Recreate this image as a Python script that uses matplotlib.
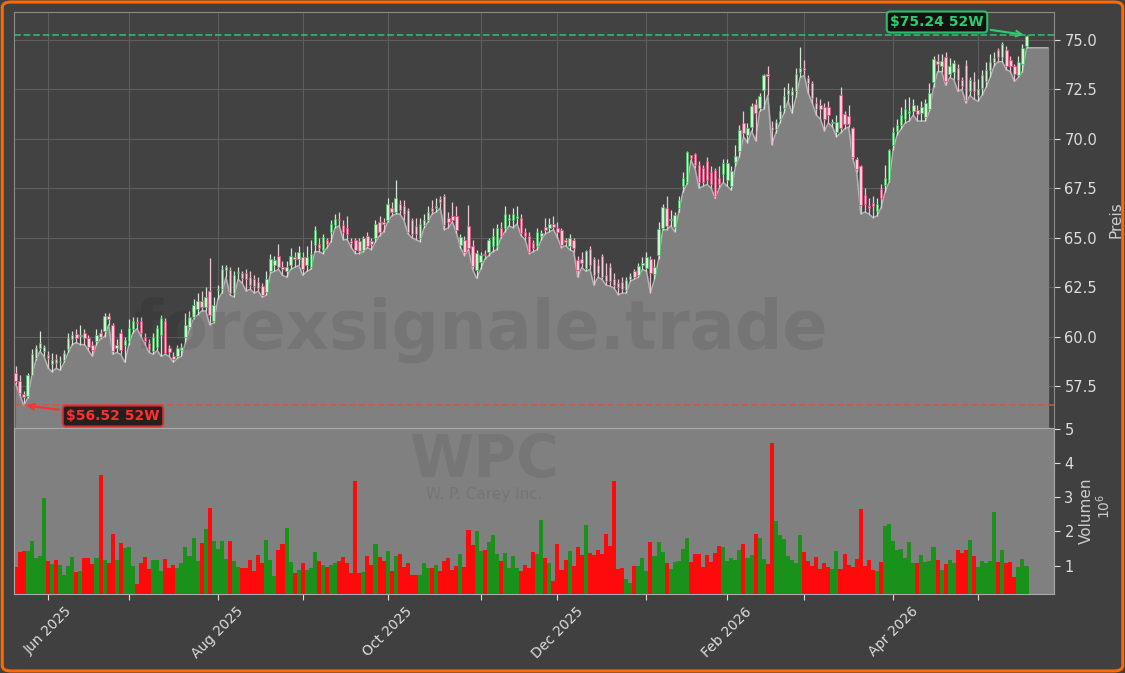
import numpy as np
import pandas as pd
import matplotlib
matplotlib.use("Agg")
import matplotlib.pyplot as plt
from matplotlib.patches import FancyBboxPatch

# trading days (NYSE holidays removed)
holidays = ["2025-05-26", "2025-06-19", "2025-07-04", "2025-09-01", "2025-11-27",
            "2025-12-25", "2026-01-01", "2026-01-19", "2026-02-16", "2026-04-03"]
dates = pd.bdate_range("2025-05-20", "2026-05-19", freq="C", holidays=holidays)

opens = [
    58.17, 57.75, 57.11, 57.02, 58.08, 58.93, 59.40, 59.26, 59.06, 58.60,
    58.89, 58.70, 58.84, 59.35, 59.90, 60.14, 60.05, 60.19, 59.94, 59.60,
    59.80, 60.20, 60.27, 61.03, 60.58, 59.43, 60.20, 59.60, 59.77, 60.36,
    60.75, 60.78, 60.00, 59.70, 59.26, 59.50, 60.10, 60.77, 59.40, 59.00,
    59.00, 59.30, 60.00, 60.50, 61.00, 61.40, 61.80, 61.50, 62.30, 60.80,
    62.35, 62.40, 63.35, 63.35, 62.20, 63.20, 63.20, 63.20, 63.00, 62.90,
    62.75, 62.55, 62.25, 63.30, 63.60, 64.10, 63.50, 63.30, 63.60, 64.00,
    63.90, 64.00, 63.60, 63.50, 64.64, 64.70, 64.40, 64.90, 65.30, 65.65,
    65.95, 65.65, 65.50, 64.85, 64.90, 64.85, 64.40, 65.10, 64.85, 64.98,
    65.80, 65.80, 65.90, 66.50, 66.30, 66.70, 66.60, 66.40, 65.90, 65.60,
    64.98, 65.65, 65.90, 66.49, 66.50, 66.95, 67.12, 65.99, 66.10, 66.10,
    64.65, 64.90, 65.60, 64.60, 63.38, 63.75, 64.20, 64.30, 64.60, 64.60,
    65.50, 65.50, 65.90, 65.90, 66.00, 66.00, 65.30, 65.07, 64.73, 64.56,
    65.10, 65.54, 65.50, 65.70, 65.50, 65.37, 64.90, 64.56, 64.87, 63.89,
    63.90, 63.47, 64.43, 63.90, 63.60, 64.10, 63.10, 63.50, 62.90, 62.70,
    62.78, 62.38, 62.93, 63.30, 63.13, 63.60, 63.47, 63.90, 63.17, 64.11,
    65.49, 66.50, 65.90, 65.52, 66.50, 67.60, 67.81, 69.16, 69.23, 68.70,
    68.50, 68.90, 68.30, 68.40, 68.00, 68.20, 67.90, 67.60, 68.83, 69.36,
    70.79, 70.20, 70.62, 71.75, 71.55, 72.47, 73.26, 70.62, 70.50, 71.00,
    71.55, 72.27, 72.22, 72.42, 73.40, 73.60, 73.06, 72.81, 71.80, 71.70,
    71.60, 71.63, 70.80, 70.33, 72.22, 71.24, 71.17, 70.54, 68.99, 68.60,
    67.14, 66.60, 66.75, 66.36, 67.46, 67.64, 67.93, 69.70, 70.40, 70.71,
    71.00, 71.30, 71.40, 71.47, 71.30, 71.10, 71.50, 72.85, 73.91, 73.66,
    74.16, 73.30, 73.40, 73.57, 72.95, 73.74, 72.40, 72.90, 72.20, 72.56,
    72.90, 73.46, 73.90, 74.47, 74.16, 74.50, 74.00, 73.70, 73.20, 73.80,
    74.70,
]
highs = [
    58.51, 58.08, 57.24, 58.17, 59.35, 59.60, 60.27, 59.60, 59.26, 59.18,
    59.10, 59.00, 59.30, 60.20, 60.30, 60.40, 60.60, 60.40, 60.10, 59.80,
    60.40, 60.40, 61.20, 61.20, 60.70, 59.90, 60.40, 60.00, 60.90, 61.00,
    61.00, 61.00, 60.20, 59.90, 60.20, 60.60, 61.10, 60.94, 59.60, 59.20,
    59.60, 59.70, 61.20, 61.30, 61.90, 62.20, 62.30, 62.50, 63.97, 62.00,
    62.60, 63.60, 63.60, 63.50, 63.30, 63.50, 63.30, 63.40, 63.30, 63.10,
    63.00, 62.70, 63.30, 64.20, 64.10, 64.70, 63.80, 63.80, 64.50, 64.30,
    64.60, 64.30, 64.60, 64.90, 65.60, 65.00, 65.20, 65.00, 65.90, 66.20,
    66.30, 65.90, 66.10, 65.00, 65.00, 65.00, 65.10, 65.30, 65.00, 65.90,
    66.10, 66.00, 67.00, 66.80, 67.90, 66.90, 66.90, 66.50, 66.00, 66.00,
    66.00, 66.20, 66.60, 66.90, 67.00, 67.10, 67.20, 66.30, 66.80, 66.58,
    65.20, 65.10, 66.67, 64.90, 64.40, 64.30, 64.40, 65.00, 65.50, 65.70,
    65.80, 66.60, 66.20, 66.50, 66.60, 66.20, 65.50, 65.30, 64.90, 65.50,
    65.40, 66.00, 66.00, 66.10, 65.80, 65.50, 65.00, 65.20, 65.00, 64.10,
    64.30, 64.40, 64.60, 64.00, 63.90, 64.20, 63.70, 63.70, 63.20, 62.90,
    63.00, 63.00, 63.20, 63.40, 63.70, 64.00, 64.30, 64.10, 63.90, 65.80,
    66.70, 67.10, 66.40, 66.30, 67.10, 68.30, 69.40, 69.20, 69.30, 68.90,
    68.70, 69.10, 68.60, 68.50, 68.60, 69.00, 69.00, 68.60, 69.70, 70.70,
    71.40, 70.80, 71.80, 72.00, 72.30, 73.30, 73.70, 70.90, 71.00, 71.70,
    72.60, 72.80, 72.60, 73.60, 74.66, 74.00, 73.20, 72.90, 72.10, 72.00,
    71.80, 71.90, 71.00, 71.20, 72.60, 71.40, 71.70, 70.60, 69.10, 68.70,
    67.50, 67.00, 67.10, 67.00, 67.70, 68.70, 69.50, 70.60, 71.00, 71.60,
    72.00, 72.10, 72.00, 71.70, 71.90, 72.00, 72.80, 74.20, 74.30, 74.30,
    74.40, 74.10, 74.00, 73.80, 73.10, 74.00, 73.10, 73.40, 73.00, 73.50,
    73.90, 74.30, 74.40, 74.60, 74.90, 74.70, 74.20, 73.80, 74.20, 74.80,
    75.24,
]
lows = [
    57.61, 57.07, 56.52, 56.90, 58.05, 58.80, 59.26, 59.00, 58.42, 58.22,
    58.40, 58.30, 58.70, 59.20, 59.60, 59.70, 59.60, 59.60, 59.30, 59.00,
    59.60, 59.90, 60.00, 60.60, 59.10, 59.20, 59.10, 58.70, 59.60, 60.20,
    60.40, 60.00, 59.60, 59.20, 59.10, 59.30, 59.00, 59.10, 59.00, 58.70,
    58.90, 59.00, 59.70, 60.40, 60.90, 61.10, 61.30, 61.30, 60.60, 60.70,
    61.90, 62.20, 63.00, 62.10, 62.00, 62.90, 62.70, 62.30, 62.40, 62.20,
    62.30, 62.00, 62.10, 63.20, 63.30, 63.40, 63.10, 63.00, 63.40, 63.50,
    63.60, 63.10, 63.30, 63.40, 64.30, 64.30, 64.20, 64.50, 64.80, 65.50,
    65.60, 64.90, 64.90, 64.50, 64.20, 64.20, 64.30, 64.50, 64.40, 64.80,
    65.10, 65.30, 65.80, 66.10, 66.20, 66.20, 65.90, 65.20, 65.00, 64.90,
    64.80, 65.50, 65.80, 66.20, 66.30, 66.50, 65.40, 65.50, 65.80, 65.24,
    64.50, 64.10, 64.40, 63.40, 62.95, 63.40, 63.90, 64.10, 64.30, 64.40,
    65.00, 65.30, 65.60, 65.50, 65.70, 65.10, 64.90, 64.20, 64.30, 64.40,
    64.90, 65.20, 65.30, 65.40, 65.00, 64.50, 64.60, 64.40, 64.30, 63.00,
    63.50, 63.30, 63.40, 62.60, 63.00, 62.90, 62.60, 62.55, 62.45, 62.12,
    62.20, 62.20, 62.80, 62.90, 63.00, 63.40, 63.30, 62.21, 62.90, 63.90,
    65.40, 65.40, 65.60, 65.30, 66.30, 67.30, 67.70, 68.90, 68.50, 67.50,
    67.60, 67.70, 67.50, 67.00, 67.50, 67.80, 67.60, 67.40, 68.60, 69.10,
    70.10, 69.80, 70.40, 69.90, 71.40, 71.50, 72.20, 69.70, 70.30, 70.80,
    71.30, 71.90, 71.30, 72.10, 73.10, 73.20, 72.30, 71.80, 71.20, 71.00,
    70.40, 70.80, 70.60, 70.10, 70.30, 70.50, 70.60, 69.00, 68.30, 66.20,
    66.30, 66.20, 66.02, 66.10, 66.50, 67.30, 67.80, 69.45, 70.20, 70.50,
    70.80, 70.90, 71.20, 70.90, 70.90, 70.90, 71.40, 72.60, 73.40, 73.40,
    72.70, 73.10, 73.00, 72.40, 72.50, 71.80, 72.20, 72.00, 71.90, 72.20,
    72.60, 73.10, 73.70, 73.90, 73.90, 73.50, 73.40, 72.90, 73.10, 73.40,
    74.60,
]
closes = [
    57.75, 57.16, 56.97, 58.08, 59.13, 59.43, 59.68, 59.47, 58.93, 58.84,
    58.67, 58.76, 59.18, 59.94, 60.10, 59.94, 60.10, 59.94, 59.50, 59.30,
    60.10, 60.00, 61.03, 60.90, 59.26, 59.60, 59.30, 59.85, 60.44, 60.81,
    60.70, 60.20, 59.80, 59.35, 60.00, 60.44, 60.95, 59.18, 59.20, 58.85,
    59.40, 59.50, 60.60, 61.00, 61.60, 61.80, 61.50, 62.00, 61.10, 61.60,
    62.40, 63.40, 63.50, 62.20, 63.10, 63.25, 62.95, 62.90, 62.60, 62.55,
    62.45, 62.10, 62.90, 63.90, 63.85, 63.50, 63.40, 63.50, 64.10, 63.90,
    64.30, 63.40, 64.00, 64.20, 65.40, 64.50, 65.06, 64.70, 65.70, 65.93,
    65.90, 65.27, 65.18, 64.73, 64.40, 64.34, 64.98, 64.60, 64.70, 65.70,
    65.30, 65.70, 66.70, 66.30, 67.00, 66.40, 66.20, 65.30, 65.20, 65.20,
    65.70, 65.90, 66.30, 66.36, 66.60, 66.80, 65.65, 65.77, 65.90, 65.37,
    65.03, 64.30, 64.48, 63.55, 64.23, 64.14, 64.15, 64.90, 65.10, 65.50,
    65.10, 66.20, 66.00, 66.20, 66.10, 65.24, 65.10, 64.30, 64.48, 65.30,
    65.24, 65.40, 65.70, 65.55, 65.30, 64.65, 64.77, 64.98, 64.48, 63.35,
    63.70, 64.31, 63.60, 63.10, 63.20, 63.00, 62.80, 62.80, 62.60, 62.50,
    62.40, 62.88, 63.08, 63.02, 63.55, 63.70, 64.01, 63.22, 63.52, 65.44,
    66.53, 65.58, 65.95, 66.13, 66.92, 68.02, 69.33, 69.03, 68.69, 67.80,
    67.80, 67.90, 67.70, 67.10, 67.70, 68.80, 68.80, 68.35, 69.11, 70.46,
    70.29, 70.57, 71.68, 71.30, 72.14, 73.23, 73.16, 70.42, 70.84, 71.41,
    72.14, 72.47, 72.42, 73.28, 73.60, 73.50, 72.81, 72.05, 71.50, 71.50,
    71.00, 71.21, 70.85, 70.84, 70.54, 70.74, 70.74, 69.10, 68.48, 66.66,
    66.70, 66.50, 66.58, 66.70, 67.00, 68.00, 69.44, 70.32, 70.70, 71.22,
    71.50, 71.40, 71.70, 71.27, 71.60, 71.80, 72.30, 74.03, 73.80, 73.91,
    72.90, 73.70, 73.83, 72.99, 72.65, 71.97, 72.95, 72.40, 72.50, 73.24,
    73.50, 73.86, 74.07, 74.11, 74.79, 73.70, 73.70, 73.30, 73.90, 74.60,
    75.20,
]
# volume in millions
volumes = [
    0.97, 1.39, 1.43, 1.43, 1.72, 1.23, 1.28, 2.97, 1.14, 1.05,
    1.17, 1.02, 0.73, 0.99, 1.25, 0.80, 0.84, 1.22, 1.22, 1.05,
    1.22, 3.64, 1.17, 1.08, 1.92, 1.17, 1.66, 1.52, 1.54, 0.99,
    0.47, 1.08, 1.25, 0.90, 1.17, 1.17, 0.84, 1.19, 0.93, 1.02,
    0.93, 1.08, 1.54, 1.28, 1.81, 1.14, 1.66, 2.07, 2.68, 1.72,
    1.49, 1.72, 1.19, 1.72, 1.14, 0.96, 0.93, 0.93, 1.17, 0.84,
    1.31, 1.08, 1.75, 1.17, 0.70, 1.46, 1.64, 2.10, 1.11, 0.79,
    0.87, 1.08, 0.87, 0.93, 1.40, 1.14, 1.02, 0.96, 1.02, 1.08,
    1.14, 1.25, 1.08, 0.79, 3.47, 0.79, 0.82, 1.28, 1.02, 1.64,
    1.25, 1.14, 1.43, 0.84, 1.28, 1.34, 0.96, 1.08, 0.73, 0.73,
    0.73, 1.08, 0.93, 0.93, 1.02, 0.84, 1.14, 1.22, 0.87, 0.99,
    1.34, 0.96, 2.04, 1.60, 2.01, 1.43, 1.46, 1.69, 1.89, 1.34,
    1.14, 1.37, 0.93, 1.28, 0.93, 0.84, 1.02, 0.93, 1.40, 1.34,
    2.35, 1.21, 1.07, 0.55, 1.62, 0.87, 1.17, 1.43, 0.99, 1.55,
    1.31, 2.18, 1.36, 1.31, 1.46, 1.34, 1.94, 1.57, 3.47, 0.90,
    0.92, 0.60, 0.50, 0.99, 0.99, 1.23, 0.84, 1.68, 1.28, 1.68,
    1.39, 1.07, 0.90, 1.10, 1.13, 1.49, 1.82, 1.10, 1.34, 1.34,
    0.97, 1.31, 1.10, 1.36, 1.57, 1.55, 1.14, 1.21, 1.17, 1.46,
    1.62, 1.21, 1.31, 1.92, 1.82, 1.19, 1.05, 4.58, 2.30, 1.91,
    1.78, 1.29, 1.17, 1.09, 1.91, 1.39, 1.14, 0.99, 1.24, 0.90,
    1.07, 0.95, 0.90, 1.43, 0.90, 1.34, 1.02, 0.97, 1.19, 2.67,
    0.99, 1.17, 0.87, 0.84, 1.10, 2.16, 2.21, 1.72, 1.46, 1.49,
    1.23, 1.68, 1.07, 1.07, 1.31, 1.10, 1.13, 1.55, 1.18, 0.87,
    1.05, 1.17, 1.07, 1.46, 1.38, 1.46, 1.75, 1.28, 0.97, 1.14,
    1.07, 1.14, 2.56, 1.10, 1.46, 1.07, 1.10, 0.68, 0.97, 1.19,
    1.00,
]

high_52w = 75.24
low_52w = 56.52

o = np.array(opens)
h = np.array(highs)
l = np.array(lows)
c = np.array(closes)
v = np.array(volumes)
x = np.arange(len(c))
up = c >= o

bg = "#404040"
fig = plt.figure(figsize=(11.25, 6.73), dpi=100)
fig.patch.set_facecolor(bg)

ax1 = fig.add_axes([14 / 1125, 1 - 428 / 673, 1040 / 1125, 416 / 673])
ax2 = fig.add_axes([14 / 1125, 1 - 594 / 673, 1040 / 1125, 166 / 673], sharex=ax1)

# price panel
ax1.set_facecolor("#424242")
ax1.set_axisbelow(True)
ax1.grid(True, color="#5e5e5e", lw=0.8)
ymin, ymax = 55.38, 76.41
fx = np.append(x, x[-1] + 5.3)
fl = np.append(l, l[-1])
ax1.fill_between(fx, fl, ymin, color="#808080", zorder=2)
ax1.plot(fx, fl, color="#b4b4b4", lw=1, zorder=2)

wick_col = np.where(up, "#d4e6d5", "#ecc4cf")
face_col = np.where(up, "#d2f2d6", "#f8cfda")
edge_col = np.where(up, "#3cb95a", "#e5487a")
ax1.vlines(x, l, h, colors=wick_col, lw=0.9, zorder=3)
body = np.maximum(np.abs(c - o), 0.04)
ax1.bar(x, body, bottom=np.minimum(o, c), width=0.62, color=face_col,
        edgecolor=edge_col, linewidth=0.5, zorder=4)

ax1.axhline(high_52w, color="#2ecc71", ls="--", lw=1.3, alpha=0.8, zorder=5)
ax1.axhline(low_52w, color="#e74c3c", ls="--", lw=1.3, alpha=0.8, zorder=5)

i_hi = int(np.argmax(h))
i_lo = int(np.argmin(l))
ax1.annotate(r"\$%.2f 52W" % high_52w, xy=(i_hi, high_52w), xycoords="data",
             xytext=(937, 651), textcoords="figure pixels",
             ha="center", va="center", fontsize=10, fontweight="bold", color="#2ecc71",
             bbox=dict(boxstyle="round,pad=0.25", fc="#0d0d0d", ec="#2ecc71", lw=1.5, alpha=0.9),
             arrowprops=dict(arrowstyle="->", color="#2ecc71", lw=1.5), zorder=6)
ax1.annotate(r"\$%.2f 52W" % low_52w, xy=(i_lo, low_52w), xycoords="data",
             xytext=(113, 257), textcoords="figure pixels",
             ha="center", va="center", fontsize=10, fontweight="bold", color="#ff3030",
             bbox=dict(boxstyle="round,pad=0.25", fc="#1e1414", ec="#e03030", lw=1.5, alpha=0.9),
             arrowprops=dict(arrowstyle="->", color="#ff3030", lw=1.5), zorder=6)

ax1.set_ylim(ymin, ymax)
ax1.set_xlim(-0.4, len(c) + 5.8)
ax1.set_yticks(np.arange(57.5, 75.1, 2.5))
ax1.yaxis.set_major_formatter(plt.FormatStrFormatter("%.1f"))
ax1.yaxis.tick_right()
ax1.yaxis.set_label_position("right")
ax1.set_ylabel("Preis", color="#cccccc", fontsize=11, labelpad=8)
ax1.tick_params(axis="y", colors="#dddddd", labelsize=10.5, length=4)
ax1.tick_params(axis="x", bottom=False, labelbottom=False)
for s in ax1.spines.values():
    s.set_color("#8c8c8c")

# volume panel
ax2.set_facecolor("#808080")
vcol = np.where(up, "#1a911a", "#ff0a0a")
ax2.bar(x, v, width=1.0, color=vcol, linewidth=0)
ax2.set_ylim(0.17, 5.03)
ax2.set_yticks([1, 2, 3, 4, 5])
ax2.yaxis.tick_right()
ax2.yaxis.set_label_position("right")
ax2.set_ylabel("Volumen", color="#cccccc", fontsize=11, labelpad=4)
ax2.tick_params(axis="y", colors="#dddddd", labelsize=10.5, length=4)
fig.text(1104 / 1125, 1 - 506 / 673, r"$10^{6}$", rotation=90, color="#cccccc",
         fontsize=10, ha="center", va="center")

month_idx = [i for i in range(1, len(dates)) if dates[i].month != dates[i - 1].month]
month_lbl = [dates[i].strftime("%b %Y") if dates[i].month % 2 == 0 else "" for i in month_idx]
ax2.set_xticks(month_idx)
ax2.set_xticklabels(month_lbl, rotation=45, ha="center")
ax2.tick_params(axis="x", colors="#dddddd", labelsize=10, length=4)
ax1.set_xticks(month_idx)
for s in ax2.spines.values():
    s.set_color("#aaaaaa")

# watermarks
fig.text(481 / 1125, 1 - 330 / 673, "forexsignale.trade", fontsize=48, fontweight="bold",
         color="black", alpha=0.08, ha="center", va="center")
fig.text(484 / 1125, 1 - 460 / 673, "WPC", fontsize=42, fontweight="bold",
         color="black", alpha=0.07, ha="center", va="center")
fig.text(484 / 1125, 1 - 494 / 673, "W. P. Carey Inc.", fontsize=11,
         color="black", alpha=0.08, ha="center", va="center")

# orange frame
fig.patches.append(FancyBboxPatch((0.002, 0.003), 0.996, 0.994,
                                  boxstyle="round,pad=0,rounding_size=0.008",
                                  transform=fig.transFigure, fc="none",
                                  ec="#ff6a00", lw=2.2))

fig.savefig("out.png", dpi=100, facecolor=fig.get_facecolor())
